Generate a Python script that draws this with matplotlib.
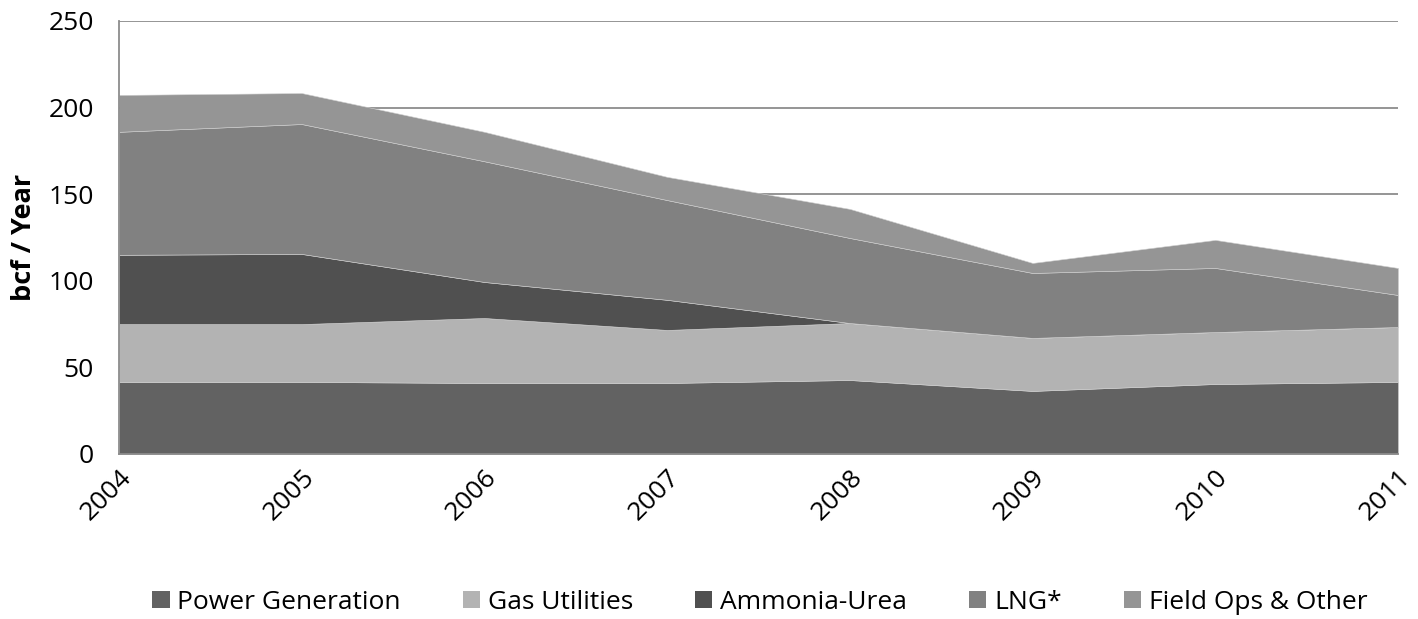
import matplotlib.pyplot as plt
from matplotlib.patches import Patch

# values (bcf / year)
years = ['2004', '2005', '2006', '2007', '2008', '2009', '2010', '2011']
power_gen = [41.6, 41.6, 41.0, 41.0, 42.7, 36.4, 40.4, 41.6]
gas_util = [33.4, 33.4, 37.5, 30.6, 32.9, 30.6, 30.0, 31.7]
ammonia = [40.0, 40.5, 20.8, 17.4, 0.0, 0.0, 0.0, 0.0]
lng = [71.0, 75.0, 69.7, 57.6, 49.1, 37.5, 37.0, 18.5]
field_ops = [21.3, 17.9, 17.0, 13.4, 16.8, 5.8, 16.2, 15.6]

labels = ['Power Generation', 'Gas Utilities', 'Ammonia-Urea', 'LNG*', 'Field Ops & Other']
colors = ['#626262', '#b3b3b3', '#505050', '#818181', '#959595']

plt.rcParams['font.family'] = ['Open Sans', 'DejaVu Sans']

fig = plt.figure(figsize=(14.18, 6.19), dpi=100)
ax = fig.add_axes([0.0839, 0.2666, 0.9020, 0.6995])

x = list(range(len(years)))
polys = ax.stackplot(x, power_gen, gas_util, ammonia, lng, field_ops,
                     colors=colors, zorder=2)
for p in polys:
    p.set_edgecolor('#d0d0d0')
    p.set_linewidth(0.4)

ax.set_xlim(0, len(years) - 1)
ax.set_ylim(0, 250)
ax.set_yticks(range(0, 251, 50))
ax.yaxis.grid(True, color='#8c8c8c', linewidth=1.3, zorder=0)
ax.set_axisbelow(True)

ax.set_xticks(x)
ax.set_xticklabels(years, rotation=45, ha='right', rotation_mode='anchor')
ax.tick_params(axis='both', length=0, labelsize=19, colors='black')
ax.tick_params(axis='y', pad=18)
ax.tick_params(axis='x', pad=8)

for side in ['top', 'right']:
    ax.spines[side].set_visible(False)
for side in ['left', 'bottom']:
    ax.spines[side].set_color('#8c8c8c')
    ax.spines[side].set_linewidth(1.3)

ax.set_ylabel('bcf / Year', fontsize=19.5, fontweight='bold', labelpad=8)

handles = [Patch(facecolor=c, label=l) for c, l in zip(colors, labels)]
fig.legend(handles=handles, loc='center', bbox_to_anchor=(0.536, 0.027),
           ncol=5, frameon=False, fontsize=19, handlelength=0.65,
           handleheight=0.65, handletextpad=0.3, columnspacing=2.35)

fig.savefig('out.png', dpi=100)
